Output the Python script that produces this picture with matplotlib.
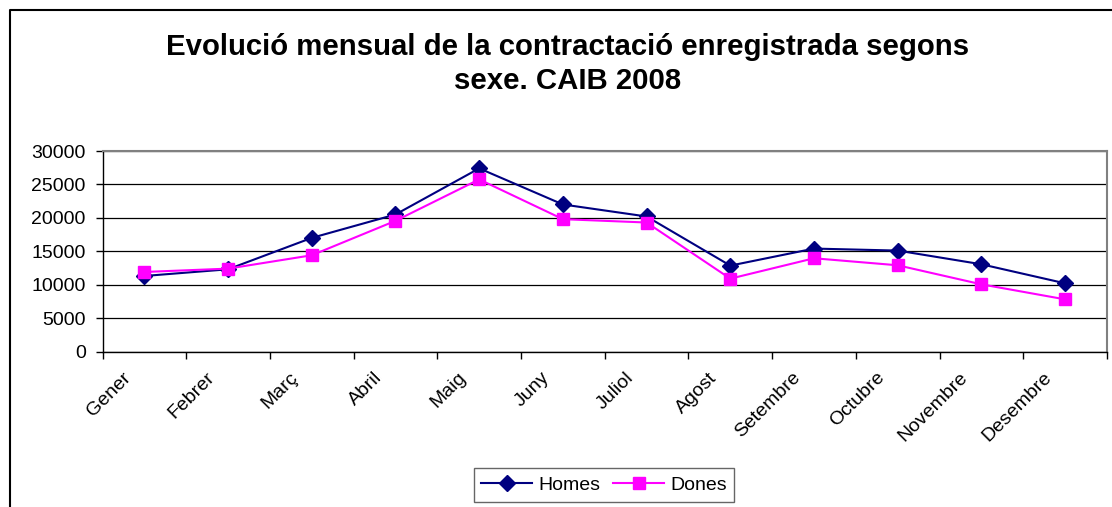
import matplotlib.pyplot as plt
import matplotlib.transforms as mtransforms
import numpy as np
from matplotlib.lines import Line2D

plt.rcParams['font.family'] = ['Liberation Sans', 'DejaVu Sans']

# Data
months = ['Gener', 'Febrer', 'Març', 'Abril', 'Maig', 'Juny', 'Juliol',
          'Agost', 'Setembre', 'Octubre', 'Novembre', 'Desembre']
homes = [11300, 12300, 17000, 20500, 27400, 22000, 20200,
         12850, 15400, 15100, 13050, 10200]
dones = [11900, 12400, 14400, 19550, 25750, 19800, 19300,
         10900, 13950, 12900, 10050, 7800]
yticks = [0, 5000, 10000, 15000, 20000, 25000, 30000]

W, H = 1112, 507
fig = plt.figure(figsize=(W / 100, H / 100), dpi=100)
ax = fig.add_axes([102.5 / W, 1 - 351.5 / H, (1107 - 102.5) / W, (351.5 - 151) / H])

x = np.arange(len(months))
ax.plot(x, homes, color='#000080', lw=1.5, marker='D', ms=8, label='Homes', zorder=3)
ax.plot(x, dones, color='#FF00FF', lw=1.5, marker='s', ms=8.5, label='Dones', zorder=3)

ax.set_xlim(-0.5, len(months) - 0.5)
ax.set_ylim(0, 30000)
ax.set_yticks(yticks)
ax.set_yticklabels([str(v) for v in yticks], fontsize=14)
ax.tick_params(axis='y', length=5, width=1, color='black', pad=7)
ax.yaxis.grid(True, color='black', lw=0.9)
ax.set_axisbelow(True)

# category labels at centers, tick marks at boundaries
ax.set_xticks(x)
ax.set_xticklabels(months, rotation=45, ha='right', va='center',
                   rotation_mode='anchor', fontsize=14)
ax.tick_params(axis='x', which='major', length=0, pad=17)
shift = mtransforms.ScaledTranslation(-16 / 100, 0, fig.dpi_scale_trans)
for lab in ax.get_xticklabels():
    lab.set_transform(lab.get_transform() + shift)
ax.set_xticks(np.arange(-0.5, len(months)), minor=True)
ax.tick_params(axis='x', which='minor', length=5, width=1, color='black')

for s in ['left', 'bottom']:
    ax.spines[s].set_color('black')
    ax.spines[s].set_linewidth(1)
for s in ['top', 'right']:
    ax.spines[s].set_color('#808080')
    ax.spines[s].set_linewidth(1.5)

fig.text(568 / W, 1 - 64 / H,
         'Evolució mensual de la contractació enregistrada segons\nsexe. CAIB 2008',
         ha='center', va='center', fontsize=21.2, fontweight='bold', linespacing=1.28)

leg = fig.legend(loc='center', bbox_to_anchor=(604 / W, 1 - 485 / H), ncol=2,
                 fontsize=14, frameon=True, fancybox=False, edgecolor='#404040',
                 handlelength=2.6, columnspacing=0.7, handletextpad=0.3,
                 borderpad=0.4, borderaxespad=0)
leg.get_frame().set_linewidth(1)

# outer chart border (left and top visible)
fig.add_artist(Line2D([9.5 / W, 9.5 / W, 1.0], [0, 1 - 9.5 / H, 1 - 9.5 / H],
                      transform=fig.transFigure, color='black', lw=1.5))

fig.savefig('out.png', dpi=100)
